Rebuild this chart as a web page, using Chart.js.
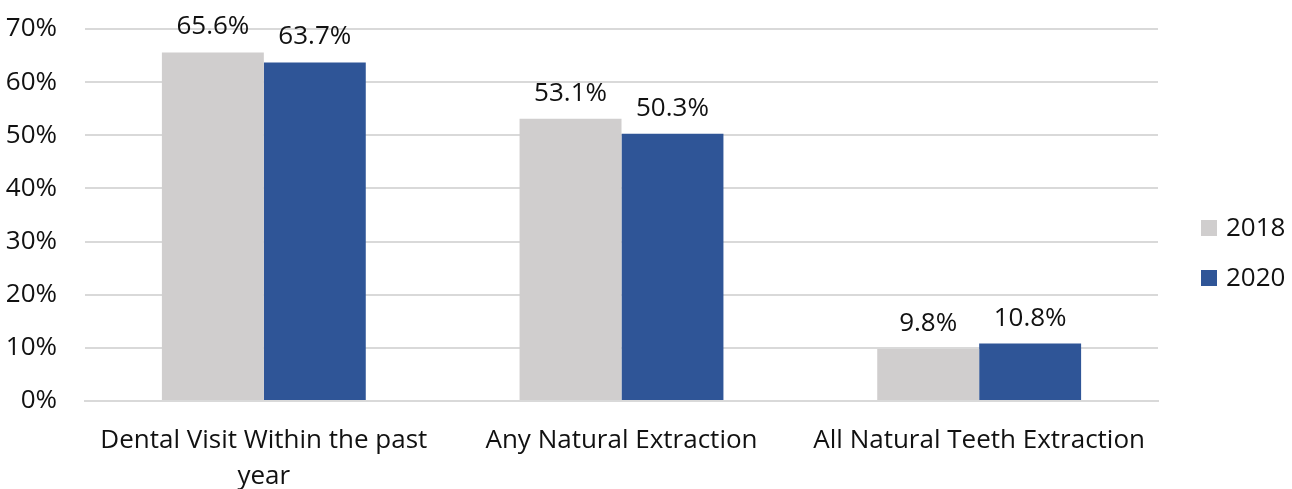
<!DOCTYPE html>
<html>
<head>
<meta charset="utf-8">
<script src="https://cdn.jsdelivr.net/npm/chart.js@4/dist/chart.umd.min.js"></script>
<style>
  html, body { margin: 0; padding: 0; background: #ffffff; }
  #wrap { width: 1292px; height: 489px; position: relative; }
</style>
</head>
<body>
<div id="wrap"><canvas id="chart" width="1292" height="489"></canvas></div>
<script>
// Categories and series values (percent)
const categories = [
  ['Dental Visit Within the past', 'year'],
  'Any Natural Extraction',
  'All Natural Teeth Extraction'
];
const seriesNames = ['2018', '2020'];
const values2018 = [65.6, 53.1, 9.8];
const values2020 = [63.7, 50.3, 10.8];
const yTicks = [0, 10, 20, 30, 40, 50, 60, 70];

const FONT = '"Open Sans", "Noto Sans", sans-serif';
const SIZE = 26;
const TEXT = '#111111';
const colors = ['#D0CECE', '#2F5597'];

// Value labels drawn above each bar
const valueLabels = {
  id: 'valueLabels',
  afterDatasetsDraw(chart) {
    const ctx = chart.ctx;
    ctx.save();
    ctx.font = SIZE + 'px ' + FONT;
    ctx.fillStyle = TEXT;
    ctx.textAlign = 'center';
    ctx.textBaseline = 'alphabetic';
    chart.data.datasets.forEach((ds, i) => {
      chart.getDatasetMeta(i).data.forEach((bar, j) => {
        ctx.fillText(ds.data[j].toFixed(1) + '%', bar.x, bar.y - 18);
      });
    });
    ctx.restore();
  }
};

// Legend on the right side
const sideLegend = {
  id: 'sideLegend',
  afterDraw(chart) {
    const ctx = chart.ctx;
    ctx.save();
    ctx.font = SIZE + 'px ' + FONT;
    ctx.textBaseline = 'middle';
    ctx.textAlign = 'left';
    const x = chart.chartArea.right + 43;
    const yStart = 228, step = 50;
    chart.data.datasets.forEach((ds, i) => {
      const y = yStart + i * step;
      ctx.fillStyle = ds.backgroundColor;
      ctx.fillRect(x, y - 8, 16, 16);
      ctx.fillStyle = TEXT;
      ctx.fillText(ds.label, x + 25, y + 1);
    });
    ctx.restore();
  }
};

new Chart(document.getElementById('chart'), {
  type: 'bar',
  data: {
    labels: categories,
    datasets: [
      { label: seriesNames[0], data: values2018, backgroundColor: colors[0] },
      { label: seriesNames[1], data: values2020, backgroundColor: colors[1] }
    ]
  },
  options: {
    responsive: false,
    animation: false,
    devicePixelRatio: 1,
    layout: { padding: { top: 29, right: 134, left: 0, bottom: 0 } },
    datasets: { bar: { categoryPercentage: 0.57, barPercentage: 1.0 } },
    plugins: { legend: { display: false }, tooltip: { enabled: false } },
    scales: {
      x: {
        grid: { display: false, drawTicks: false },
        border: { display: true, color: '#d9d9d9', width: 2 },
        ticks: {
          color: TEXT,
          font: { family: FONT, size: SIZE, lineHeight: 1.38 },
          padding: 22,
          maxRotation: 0,
          autoSkip: false
        },
        afterFit(scale) {
          scale.height = 88;
          scale.paddingLeft = 0;
          scale.paddingRight = 0;
        }
      },
      y: {
        min: 0,
        max: 70,
        afterBuildTicks(scale) { scale.ticks = yTicks.map(v => ({ value: v })); },
        grid: { color: '#d9d9d9', lineWidth: 2, drawTicks: false },
        border: { display: false },
        ticks: {
          color: TEXT,
          font: { family: FONT, size: SIZE },
          padding: 28,
          callback: v => v + '%'
        },
        afterFit(scale) {
          scale.width = 85;
          scale.paddingTop = 0;
          scale.paddingBottom = 0;
        }
      }
    }
  },
  plugins: [valueLabels, sideLegend]
});
</script>
</body>
</html>
